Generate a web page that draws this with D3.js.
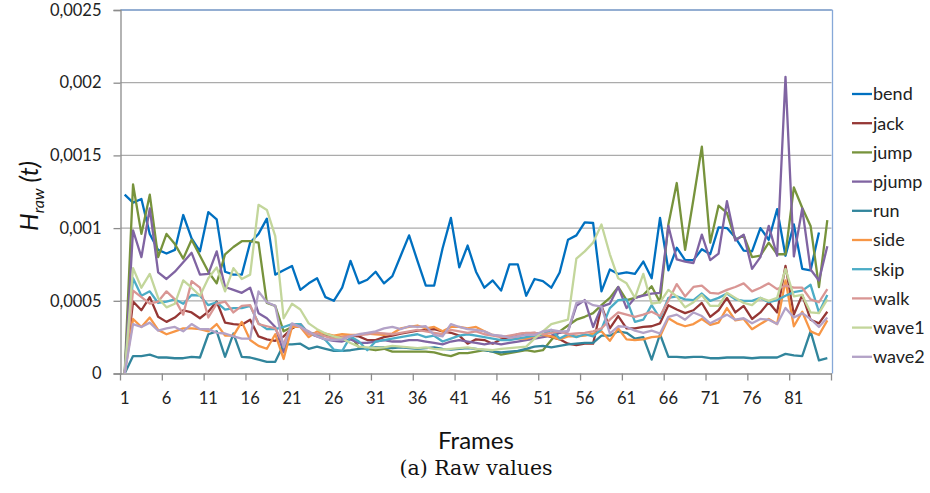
<!DOCTYPE html>
<html lang="en">
<head>
<meta charset="UTF-8">
<title>Raw values</title>
<style>
  body { margin: 0; background: #fff; }
  svg { display: block; font-family: Lato, "Open Sans", sans-serif; }
</style>
</head>
<body>
<script src="https://d3js.org/d3.v7.min.js"></script>
<div id="chart"></div>
<script>
// values are in units of 1e-4
var unit = 1e-4;

var frames = d3.range(1, 86);

var bend = [12.3, 11.75, 12.0, 9.6, 8.5, 8.25, 8.5, 10.9, 9.3, 8.4,
  11.1, 10.6, 7.0, 6.8, 6.8, 9.0, 9.6, 10.65, 6.8, 7.1,
  7.4, 5.75, 6.2, 6.55, 5.25, 5.0, 5.9, 7.75, 6.2, 6.45,
  7.0, 6.2, 6.7, 8.1, 9.5, 7.75, 6.05, 6.05, 8.6, 10.7,
  7.3, 8.8, 7.0, 5.9, 6.4, 5.7, 7.5, 7.5, 5.35, 6.5,
  6.35, 5.9, 6.95, 9.2, 9.5, 10.4, 10.35, 5.65, 7.15, 6.85,
  6.95, 6.85, 7.7, 6.55, 10.7, 7.1, 8.65, 7.8, 7.8, 8.55,
  8.2, 10.05, 10.0, 9.35, 8.45, 8.4, 10.0, 9.2, 11.3, 8.1,
  10.25, 7.2, 7.1, 9.7];

var jack = [0, 4.95, 4.35, 5.25, 3.9, 3.55, 3.85, 4.35, 4.2, 3.8,
  4.25, 4.95, 3.5, 3.4, 3.35, 3.7, 2.55, 2.35, 2.25, 2.55,
  3.1, 3.4, 2.75, 2.7, 2.6, 2.4, 2.5, 2.6, 2.55, 2.3,
  2.3, 2.5, 2.6, 2.75, 2.85, 2.95, 3.0, 3.05, 2.9, 2.8,
  2.6, 2.05, 2.35, 2.3, 2.05, 2.35, 2.5, 2.7, 2.75, 2.8,
  2.7, 2.5, 2.35, 2.05, 1.95, 2.05, 2.05, 4.65, 3.1, 3.95,
  3.1, 3.1, 3.2, 3.25, 3.45, 4.7, 4.4, 4.15, 4.35, 4.85,
  3.9, 4.35, 5.2, 4.2, 4.65, 3.75, 4.2, 4.9, 4.2, 7.4,
  4.05, 5.4, 3.7, 3.45, 4.25];

var jump = [0, 13.0, 9.6, 12.3, 8.0, 9.6, 8.9, 7.9, 9.2, 8.1,
  7.0, 6.2, 8.2, 8.7, 9.1, 9.1, 9.0, 4.85, 4.65, 2.9,
  3.2, 3.3, 2.8, 2.7, 2.6, 2.5, 2.4, 2.6, 1.8, 1.7,
  1.6, 1.7, 1.5, 1.5, 1.5, 1.5, 1.5, 1.45, 1.3, 1.2,
  1.4, 1.4, 1.5, 1.6, 1.5, 1.3, 1.4, 1.5, 1.6, 1.5,
  1.6, 2.3, 2.9, 3.3, 3.7, 3.9, 4.15, 4.7, 5.2, 5.95,
  5.05, 5.2, 5.4, 6.0, 4.9, 10.25, 13.1, 8.5, 12.0, 15.6,
  9.0, 11.55, 11.05, 9.2, 9.5, 8.0, 8.1, 9.0, 8.2, 8.2,
  12.8, 11.4, 10.15, 5.95, 10.55];

var pjump = [0, 9.85, 8.0, 11.35, 6.95, 6.5, 7.0, 7.65, 8.3, 6.8,
  6.85, 8.4, 5.95, 5.75, 5.55, 5.9, 4.15, 3.8, 3.2, 1.45,
  3.35, 3.35, 2.75, 2.55, 2.35, 2.25, 2.2, 2.35, 2.1, 2.1,
  2.2, 2.3, 2.2, 2.2, 2.3, 2.3, 2.2, 2.1, 2.0, 2.2,
  2.3, 2.2, 2.1, 2.0, 2.1, 2.0, 2.1, 2.2, 2.3, 2.4,
  2.5, 2.6, 2.8, 2.9, 4.65, 5.05, 3.2, 4.6, 4.8, 5.95,
  4.5, 5.2, 5.35, 5.5, 5.55, 10.15, 7.85, 7.7, 7.6, 9.55,
  7.8, 8.25, 11.85, 9.15, 9.55, 7.2, 8.0, 10.15, 8.1, 20.4,
  8.05, 11.35, 7.15, 6.4, 8.75];

var run = [0, 1.2, 1.2, 1.3, 1.1, 1.1, 1.05, 1.05, 1.15, 1.1,
  2.7, 2.9, 1.15, 2.75, 1.15, 1.1, 0.95, 0.8, 0.8, 2.0,
  2.0, 2.05, 1.7, 1.85, 1.7, 1.55, 1.55, 1.6, 1.7, 1.75,
  1.8, 1.8, 1.75, 1.8, 1.75, 1.7, 1.75, 1.8, 1.7, 1.65,
  1.7, 1.75, 1.7, 1.6, 1.5, 1.45, 1.5, 1.55, 1.7, 1.85,
  1.9, 1.8, 1.9, 2.0, 2.05, 2.1, 2.1, 2.6, 2.6, 2.9,
  2.8, 2.4, 2.5, 0.95, 2.7, 1.15, 1.15, 1.1, 1.15, 1.15,
  1.05, 1.05, 1.1, 1.1, 1.1, 1.05, 1.1, 1.1, 1.1, 1.35,
  1.25, 1.2, 2.9, 0.9, 1.05];

var side = [0, 3.75, 3.2, 3.85, 3.0, 2.7, 2.9, 3.1, 3.1, 3.05,
  2.9, 3.4, 2.6, 2.6, 3.55, 2.3, 1.9, 1.7, 2.7, 1.0,
  3.2, 3.2, 2.5, 2.9, 2.75, 2.6, 2.7, 2.65, 2.65, 2.75,
  2.7, 2.65, 2.75, 3.1, 3.2, 3.3, 3.1, 3.2, 2.9, 3.2,
  3.2, 3.1, 3.2, 2.9, 2.65, 2.55, 2.5, 2.4, 2.4, 2.55,
  2.65, 2.55, 2.35, 2.55, 2.55, 2.6, 2.75, 2.9, 2.25, 3.1,
  2.35, 2.3, 2.35, 2.5, 2.55, 3.8, 3.45, 3.25, 3.4, 3.75,
  3.35, 3.5, 4.5, 3.65, 3.75, 3.05, 3.4, 3.75, 3.4, 6.4,
  3.25, 4.25, 2.9, 2.65, 3.65];

var skip = [0, 6.55, 5.35, 5.65, 4.85, 4.95, 5.1, 4.8, 5.4, 5.35,
  4.7, 4.9, 4.4, 4.5, 4.5, 4.65, 3.45, 3.05, 3.05, 3.2,
  3.4, 3.4, 2.75, 2.65, 2.3, 1.65, 1.55, 2.55, 2.2, 1.6,
  2.2, 2.3, 2.4, 2.5, 2.6, 2.7, 2.5, 2.6, 2.2, 2.4,
  2.6, 2.7, 2.6, 2.5, 2.4, 2.3, 2.3, 2.4, 2.5, 2.6,
  2.7, 3.0, 2.4, 2.7, 2.5, 2.7, 2.55, 3.05, 4.5, 5.05,
  5.1, 3.55, 3.7, 4.7, 3.8, 5.2, 5.3, 5.1, 5.05, 5.5,
  5.0, 5.2, 5.5, 5.1, 5.0, 5.0, 5.2, 4.9, 5.05, 5.35,
  5.6, 5.7, 6.1, 4.2, 5.4];

var walk = [0, 5.7, 5.25, 4.8, 4.95, 5.65, 5.1, 4.05, 6.35, 5.9,
  3.85, 4.8, 4.95, 4.2, 4.65, 4.7, 3.4, 3.25, 3.1, 2.05,
  3.4, 3.2, 2.7, 2.75, 2.55, 2.4, 2.5, 2.6, 2.65, 2.7,
  2.8, 2.75, 2.7, 2.8, 2.9, 3.0, 2.9, 2.8, 2.7, 3.0,
  2.9, 2.8, 2.9, 2.7, 2.6, 2.5, 2.6, 2.7, 2.8, 2.8,
  2.7, 2.8, 2.9, 2.7, 2.75, 2.8, 2.9, 3.1, 3.7, 4.2,
  4.05, 3.9, 4.05, 4.25, 3.95, 5.0, 6.15, 5.3, 5.95, 6.05,
  5.55, 5.5, 5.75, 5.95, 6.2, 5.65, 5.9, 6.2, 5.8, 6.05,
  5.9, 5.9, 5.1, 4.9, 5.8];

var wave1 = [0, 7.25, 5.9, 6.85, 5.2, 4.55, 4.8, 6.4, 5.9, 5.35,
  6.55, 7.3, 5.65, 7.25, 6.5, 6.8, 11.6, 11.25, 9.45, 3.8,
  4.8, 4.4, 3.45, 3.05, 2.75, 2.55, 2.4, 2.1, 1.85, 1.8,
  1.75, 1.8, 1.9, 1.85, 1.8, 1.75, 1.8, 1.7, 1.65, 1.7,
  1.75, 1.8, 1.7, 1.65, 1.6, 1.7, 1.75, 1.8, 1.85, 2.4,
  2.9, 3.4, 3.55, 3.7, 7.9, 8.4, 9.0, 10.25, 8.2, 6.55,
  6.2, 5.2, 6.85, 4.8, 4.9, 5.75, 5.3, 4.55, 4.9, 5.4,
  4.65, 4.65, 5.55, 5.2, 4.85, 4.7, 5.2, 5.0, 5.2, 7.2,
  5.3, 5.4, 4.2, 4.15, 5.1];

var wave2 = [0, 3.4, 3.2, 3.5, 2.95, 3.1, 3.2, 2.9, 3.4, 3.05,
  3.05, 2.8, 2.75, 2.55, 2.4, 2.4, 5.65, 4.9, 4.65, 1.8,
  3.45, 3.2, 2.9, 2.55, 2.35, 2.3, 2.35, 2.55, 2.7, 2.8,
  2.9, 3.1, 3.2, 3.05, 3.25, 3.2, 3.25, 2.65, 2.55, 3.4,
  3.2, 3.05, 3.0, 2.9, 2.65, 2.6, 2.45, 2.55, 2.65, 2.65,
  2.9, 3.0, 2.9, 2.9, 4.85, 5.0, 4.7, 4.6, 2.75, 3.25,
  3.2, 2.95, 2.8, 2.95, 2.75, 3.9, 4.05, 3.7, 4.2, 3.95,
  3.45, 3.75, 4.05, 3.7, 3.8, 3.45, 3.75, 3.7, 3.4, 4.5,
  3.85, 4.15, 3.75, 3.2, 3.85];

var seriesNames = ["bend", "jack", "jump", "pjump", "run", "side", "skip", "walk", "wave1", "wave2"];
var seriesValues = [bend, jack, jump, pjump, run, side, skip, walk, wave1, wave2];
var colors = ["#0070C0", "#953735", "#77933C", "#8064A2", "#31859C",
              "#F79646", "#4BACC6", "#D99694", "#C3D69B", "#B3A2C7"];

var yTicks = [0, 0.0005, 0.001, 0.0015, 0.002, 0.0025];
var xLabels = [1, 6, 11, 16, 21, 26, 31, 36, 41, 46, 51, 56, 61, 66, 71, 76, 81];

var W = 930, H = 493;
var plotL = 120.5, plotR = 831.5, plotT = 10, plotB = 373.5;

var svg = d3.select("#chart").append("svg")
    .attr("width", W)
    .attr("height", H);

var x = d3.scaleBand().domain(frames).range([plotL, plotR]).padding(0);
var y = d3.scaleLinear().domain([0, 0.0025]).range([plotB, plotT]);
var cx = function(f) { return x(f) + x.bandwidth() / 2; };

// gridlines
svg.append("g")
    .selectAll("line")
    .data(yTicks.slice(1))
    .enter().append("line")
    .attr("x1", plotL).attr("x2", plotR)
    .attr("y1", function(d) { return y(d); })
    .attr("y2", function(d) { return y(d); })
    .attr("stroke", "#ababab")
    .attr("stroke-width", 1.3);

// plot border top / right
svg.append("line")
    .attr("x1", plotL).attr("x2", plotR + 1).attr("y1", plotT).attr("y2", plotT)
    .attr("stroke", "#86a8d8").attr("stroke-width", 1.3);
svg.append("line")
    .attr("x1", plotR + 1).attr("x2", plotR + 1).attr("y1", plotT).attr("y2", plotB)
    .attr("stroke", "#86a8d8").attr("stroke-width", 1.3);

// y axis
var yAxis = svg.append("g")
    .attr("transform", "translate(" + plotL + ",0)")
    .call(d3.axisLeft(y).tickValues(yTicks).tickSize(7).tickPadding(12)
        .tickFormat(function(d) { return d === 0 ? "0" : String(d).replace(".", ","); }));
yAxis.select(".domain").attr("stroke", "#8c8c8c").attr("stroke-width", 1.3);
yAxis.selectAll(".tick line").attr("stroke", "#8c8c8c").attr("stroke-width", 1.3);
yAxis.selectAll("text").style("font-size", "16.5px").attr("fill", "#222")
    .style("font-family", "Lato, sans-serif");

// x axis: labels at category centres, ticks between categories every 5
var xAxis = svg.append("g")
    .attr("transform", "translate(0," + plotB + ")")
    .call(d3.axisBottom(x).tickValues(xLabels).tickSize(0).tickPadding(19));
xAxis.select(".domain").attr("stroke", "#8c8c8c").attr("stroke-width", 1.3);
xAxis.selectAll("text").style("font-size", "16.5px").attr("fill", "#222")
    .style("font-family", "Lato, sans-serif");

var tickPos = xLabels.map(function(f) { return x(f); }).concat([plotR]);
svg.append("g")
    .selectAll("line")
    .data(tickPos)
    .enter().append("line")
    .attr("x1", function(d) { return d; })
    .attr("x2", function(d) { return d; })
    .attr("y1", plotB).attr("y2", plotB + 7)
    .attr("stroke", "#8c8c8c").attr("stroke-width", 1.3);

// lines
var line = d3.line()
    .x(function(d, i) { return cx(frames[i]); })
    .y(function(d) { return y(d * unit); });

svg.append("g")
    .selectAll("path")
    .data(seriesValues)
    .enter().append("path")
    .attr("d", function(d) { return line(d); })
    .attr("fill", "none")
    .attr("stroke", function(d, i) { return colors[i]; })
    .attr("stroke-width", 2.3)
    .attr("stroke-linejoin", "round");

// legend
var legend = svg.append("g")
    .selectAll("g")
    .data(seriesNames)
    .enter().append("g")
    .attr("transform", function(d, i) { return "translate(852," + (94 + i * 29.2) + ")"; });
legend.append("line")
    .attr("x1", 0).attr("x2", 20).attr("y1", 0).attr("y2", 0)
    .attr("stroke", function(d, i) { return colors[i]; })
    .attr("stroke-width", 2.3);
legend.append("text")
    .attr("x", 21).attr("y", 0).attr("dy", "0.35em")
    .style("font-size", "18px").attr("fill", "#222")
    .text(function(d) { return d; });

// y title
var yt = svg.append("text")
    .attr("transform", "translate(38,196) rotate(-90)")
    .attr("text-anchor", "middle")
    .style("font-size", "25px").style("font-style", "italic").attr("fill", "#111");
yt.append("tspan").text("H");
yt.append("tspan").attr("dy", 6).style("font-size", "16px").text("raw");
yt.append("tspan").attr("dy", -6).text(" (t)");

// x title
svg.append("text")
    .attr("x", 476).attr("y", 449)
    .attr("text-anchor", "middle")
    .style("font-size", "24px").attr("fill", "#111")
    .text("Frames");

// caption
svg.append("text")
    .attr("x", 476).attr("y", 475)
    .attr("text-anchor", "middle")
    .style("font-family", "'DejaVu Serif', 'Liberation Serif', serif")
    .style("font-size", "20.5px").attr("fill", "#111")
    .text("(a) Raw values");
</script>
</body>
</html>
